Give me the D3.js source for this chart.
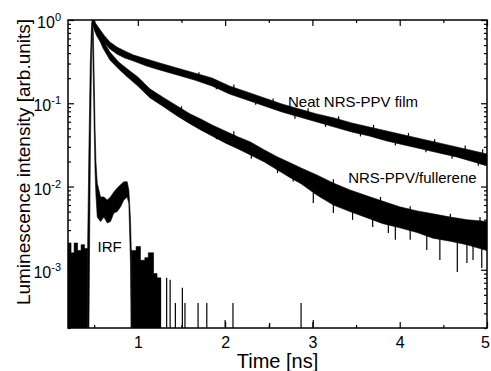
<!DOCTYPE html>
<html>
<head>
<meta charset="utf-8">
<script src="https://cdn.jsdelivr.net/npm/d3@7"></script>
<style>
  body { margin: 0; background: #fff; }
  text { font-family: "Liberation Sans", Arial, sans-serif; fill: #000; }
</style>
</head>
<body>
<div id="chart"></div>
<script>
// neat film decay: time (ns), lower and upper edge of the noisy trace
const neatT  = [0.48, 0.50, 0.53, 0.57, 0.62, 0.68, 0.76, 0.85, 0.95, 1.10, 1.25, 1.45, 1.65, 1.85, 2.05, 2.25, 2.45, 2.65, 2.85, 3.05, 3.25, 3.45, 3.65, 3.85, 4.05, 4.25, 4.45, 4.65, 4.85, 5.00];
const neatLo = [0.90, 0.82, 0.72, 0.625, 0.53, 0.45, 0.39, 0.35, 0.322, 0.28, 0.251, 0.219, 0.19, 0.161, 0.129, 0.1096, 0.0928, 0.0787, 0.0685, 0.0597, 0.0519, 0.0452, 0.0405, 0.0353, 0.0316, 0.0283, 0.0253, 0.0227, 0.0197, 0.0177];
const neatHi = [1.0, 0.97, 0.87, 0.76, 0.643, 0.545, 0.474, 0.425, 0.38, 0.34, 0.305, 0.265, 0.231, 0.201, 0.161, 0.137, 0.116, 0.098, 0.0855, 0.0744, 0.0666, 0.058, 0.0519, 0.0465, 0.0416, 0.0373, 0.0334, 0.0299, 0.0268, 0.0246];
// noise spikes of the neat trace: time, start, tip
const neatSpikeT    = [1.70, 1.90, 2.10, 2.35, 2.55, 2.80, 2.95, 3.15, 3.30, 3.55, 3.70, 3.95, 4.10, 4.30, 4.40, 4.60, 4.75, 4.90, 4.95];
const neatSpikeFrom = [0.21, 0.165, 0.145, 0.108, 0.10, 0.075, 0.075, 0.06, 0.06, 0.046, 0.047, 0.036, 0.038, 0.030, 0.032, 0.025, 0.026, 0.021, 0.023];
const neatSpikeTo   = [0.235, 0.147, 0.168, 0.096, 0.114, 0.065, 0.087, 0.052, 0.070, 0.040, 0.055, 0.031, 0.044, 0.0258, 0.037, 0.0215, 0.031, 0.0178, 0.028];

// blend with fullerene
const fulT  = [0.48, 0.50, 0.53, 0.57, 0.60, 0.68, 0.78, 0.88, 1.00, 1.14, 1.30, 1.45, 1.60, 1.72, 1.85, 2.00, 2.15, 2.29, 2.45, 2.60, 2.75, 2.87, 3.05, 3.24, 3.43, 3.63, 3.80, 4.00, 4.20, 4.38, 4.58, 4.77, 5.00];
const fulLo = [0.90, 0.76, 0.643, 0.545, 0.461, 0.331, 0.258, 0.207, 0.161, 0.116, 0.090, 0.0705, 0.0565, 0.0478, 0.0405, 0.0334, 0.0283, 0.0239, 0.0197, 0.0158, 0.0127, 0.0108, 0.0079, 0.0060, 0.0050, 0.0042, 0.0036, 0.0032, 0.0028, 0.0024, 0.0022, 0.0020, 0.0017];
const fulHi = [1.0, 0.92, 0.80, 0.679, 0.575, 0.413, 0.313, 0.258, 0.207, 0.1485, 0.116, 0.093, 0.0744, 0.0648, 0.055, 0.0465, 0.0394, 0.0343, 0.0275, 0.0227, 0.0192, 0.0167, 0.0138, 0.0110, 0.0091, 0.0077, 0.0067, 0.0057, 0.0051, 0.0047, 0.0043, 0.0040, 0.0038];
const fulSpikeT    = [1.50, 1.90, 2.10, 2.30, 2.60, 2.78, 3.01, 3.24, 3.24, 3.46, 3.69, 3.78, 3.87, 3.95, 4.12, 4.12, 4.31, 4.46, 4.58, 4.66, 4.77, 4.84, 4.92, 4.94];
const fulSpikeFrom = [0.080, 0.042, 0.040, 0.026, 0.0175, 0.014, 0.0085, 0.0065, 0.0100, 0.0055, 0.0048, 0.0062, 0.0040, 0.0036, 0.0034, 0.0050, 0.0030, 0.0028, 0.0040, 0.0024, 0.0022, 0.0021, 0.0036, 0.0020];
const fulSpikeTo   = [0.092, 0.037, 0.046, 0.0215, 0.0145, 0.0115, 0.00635, 0.00482, 0.0122, 0.00398, 0.00327, 0.0075, 0.00277, 0.00229, 0.00229, 0.0058, 0.00173, 0.00131, 0.0047, 0.00094, 0.00121, 0.00131, 0.0043, 0.00105];

// instrument response function
const irfFloorT   = [0.20, 0.235, 0.27, 0.31, 0.35, 0.39, 0.425];
const irfFloorTop = [0.0021, 0.0016, 0.0021, 0.0017, 0.0020, 0.0018, 0.0018];
const irfPulseT  = [0.425, 0.44, 0.455, 0.47, 0.478, 0.49, 0.50, 0.51, 0.52, 0.535, 0.573, 0.611, 0.65, 0.687, 0.725, 0.764, 0.802, 0.84, 0.878, 0.897, 0.916, 0.925];
const irfPulseLo = [0.0002, 0.0002, 0.02, 0.4, 0.8, 0.2, 0.05, 0.015, 0.008, 0.0043, 0.0038, 0.0043, 0.00366, 0.0038, 0.0048, 0.005, 0.0057, 0.0069, 0.0075, 0.0063, 0.0012, 0.0002];
const irfPulseHi = [0.002, 0.03, 0.3, 0.9, 1.0, 0.7, 0.2, 0.05, 0.02, 0.011, 0.0075, 0.0075, 0.0069, 0.0075, 0.0086, 0.0096, 0.0105, 0.0114, 0.0114, 0.0091, 0.004, 0.0017];
const irfTailT   = [0.925, 0.98, 1.03, 1.08, 1.12, 1.18, 1.22, 1.26];
const irfTailTop = [0.0017, 0.0019, 0.0013, 0.0014, 0.0016, 0.0009, 0.0008, 0.0008];
const irfSpikeT   = [1.26, 1.33, 1.37, 1.43, 1.51, 1.54, 1.69, 1.79, 2.00, 2.09, 2.51, 2.87, 3.01];
const irfSpikeTop = [0.0008, 0.0008, 0.00076, 0.0004, 0.00061, 0.0004, 0.0004, 0.0004, 0.00025, 0.0004, 0.00023, 0.0004, 0.00025];

const xTicks = [1, 2, 3, 4, 5];
const xMinorTicks = [0.5, 1.5, 2.5, 3.5, 4.5];
const yTicks = [1, 0.1, 0.01, 0.001];
const yTickExp = ['0', '-1', '-2', '-3'];

const margin = {top: 20, right: 4, bottom: 43, left: 68};
const width = 491 - margin.left - margin.right;
const height = 371 - margin.top - margin.bottom;

const svg = d3.select('#chart').append('svg')
  .attr('width', 491)
  .attr('height', 371);
const g = svg.append('g')
  .attr('transform', 'translate(' + margin.left + ',' + margin.top + ')');

const x = d3.scaleLinear().domain([0.2, 5]).range([0, width]);
const y = d3.scaleLog().domain([2e-4, 1]).range([height, 0]);

g.append('clipPath').attr('id', 'clip')
  .append('rect').attr('width', width).attr('height', height);
const plot = g.append('g').attr('clip-path', 'url(#clip)');

const band = d3.area()
  .x(d => x(d.t))
  .y0(d => y(d.lo))
  .y1(d => y(d.hi));
const stepBand = d3.area()
  .curve(d3.curveStepAfter)
  .x(d => x(d.t))
  .y0(height)
  .y1(d => y(d.hi));

function drawBand(gen, data) {
  plot.append('path')
    .datum(data)
    .attr('d', gen)
    .attr('fill', '#000')
    .attr('stroke', '#000')
    .attr('stroke-width', 0.6)
    .attr('stroke-linejoin', 'round');
}

function drawSpikes(ts, from, to) {
  plot.append('g').selectAll('line')
    .data(ts.map((t, i) => ({t: t, a: from[i], b: to[i]})))
    .enter().append('line')
    .attr('x1', d => x(d.t)).attr('x2', d => x(d.t))
    .attr('y1', d => d.a === null ? height : y(d.a))
    .attr('y2', d => y(d.b))
    .attr('stroke', '#000').attr('stroke-width', 1.2);
}

drawBand(stepBand, irfFloorT.map((t, i) => ({t: t, hi: irfFloorTop[i]})));
drawBand(band, irfPulseT.map((t, i) => ({t: t, lo: irfPulseLo[i], hi: irfPulseHi[i]})));
drawBand(stepBand, irfTailT.map((t, i) => ({t: t, hi: irfTailTop[i]})));
drawSpikes(irfSpikeT, irfSpikeT.map(() => null), irfSpikeTop);

drawBand(band, neatT.map((t, i) => ({t: t, lo: neatLo[i], hi: neatHi[i]})));
drawSpikes(neatSpikeT, neatSpikeFrom, neatSpikeTo);
drawBand(band, fulT.map((t, i) => ({t: t, lo: fulLo[i], hi: fulHi[i]})));
drawSpikes(fulSpikeT, fulSpikeFrom, fulSpikeTo);

// axes, ticks pointing inwards on all four sides
function styleAxis(sel) {
  sel.select('.domain').remove();
  sel.selectAll('line').attr('stroke', '#000').attr('stroke-width', 1.2);
}
const xAxis = g.append('g').attr('transform', 'translate(0,' + height + ')')
  .call(d3.axisBottom(x).tickValues(xTicks).tickSize(-6).tickPadding(9).tickFormat(d3.format('d')))
  .call(styleAxis);
xAxis.selectAll('text').style('font-size', '16px')
  .attr('dx', d => d === 5 ? -2 : 0);
g.append('g').attr('transform', 'translate(0,' + height + ')')
  .call(d3.axisBottom(x).tickValues(xMinorTicks).tickSize(-3).tickFormat(''))
  .call(styleAxis);
g.append('g')
  .call(d3.axisTop(x).tickValues(xTicks).tickSize(-6).tickFormat(''))
  .call(styleAxis);
g.append('g')
  .call(d3.axisTop(x).tickValues(xMinorTicks).tickSize(-3).tickFormat(''))
  .call(styleAxis);

const yMinor = [];
[-4, -3, -2, -1].forEach(e => {
  for (let k = 2; k <= 9; k++) yMinor.push(k * Math.pow(10, e));
});
g.append('g')
  .call(d3.axisLeft(y).tickValues(yTicks).tickSize(-6).tickFormat(''))
  .call(styleAxis);
g.append('g')
  .call(d3.axisLeft(y).tickValues(yMinor).tickSize(-3).tickFormat(''))
  .call(styleAxis);
g.append('g').attr('transform', 'translate(' + width + ',0)')
  .call(d3.axisRight(y).tickValues(yTicks).tickSize(-6).tickFormat(''))
  .call(styleAxis);
g.append('g').attr('transform', 'translate(' + width + ',0)')
  .call(d3.axisRight(y).tickValues(yMinor).tickSize(-3).tickFormat(''))
  .call(styleAxis);

const yLab = g.selectAll('.ylab')
  .data(yTicks)
  .enter().append('text')
  .attr('x', -7)
  .attr('y', d => y(d) + 8)
  .attr('text-anchor', 'end')
  .style('font-size', '16px');
yLab.append('tspan').text('10');
yLab.append('tspan')
  .attr('dy', -7)
  .style('font-size', '11px')
  .text((d, i) => yTickExp[i]);

g.append('rect')
  .attr('width', width).attr('height', height)
  .attr('fill', 'none').attr('stroke', '#000').attr('stroke-width', 1.5);

// axis titles
svg.append('text')
  .attr('x', margin.left + width / 2)
  .attr('y', 368)
  .attr('text-anchor', 'middle')
  .style('font-size', '20px')
  .text('Time [ns]');
svg.append('text')
  .attr('transform', 'translate(30,162) rotate(-90)')
  .attr('text-anchor', 'middle')
  .style('font-size', '19px')
  .text('Luminescence intensity [arb.units]');

// curve labels
g.append('text').attr('x', x(2.72)).attr('y', y(0.0903)).style('font-size', '15px').text('Neat NRS-PPV film');
g.append('text').attr('x', x(3.41)).attr('y', y(0.011)).style('font-size', '15px').text('NRS-PPV/fullerene');
g.append('text').attr('x', x(0.539)).attr('y', y(0.00164)).style('font-size', '15px').text('IRF');
</script>
</body>
</html>
